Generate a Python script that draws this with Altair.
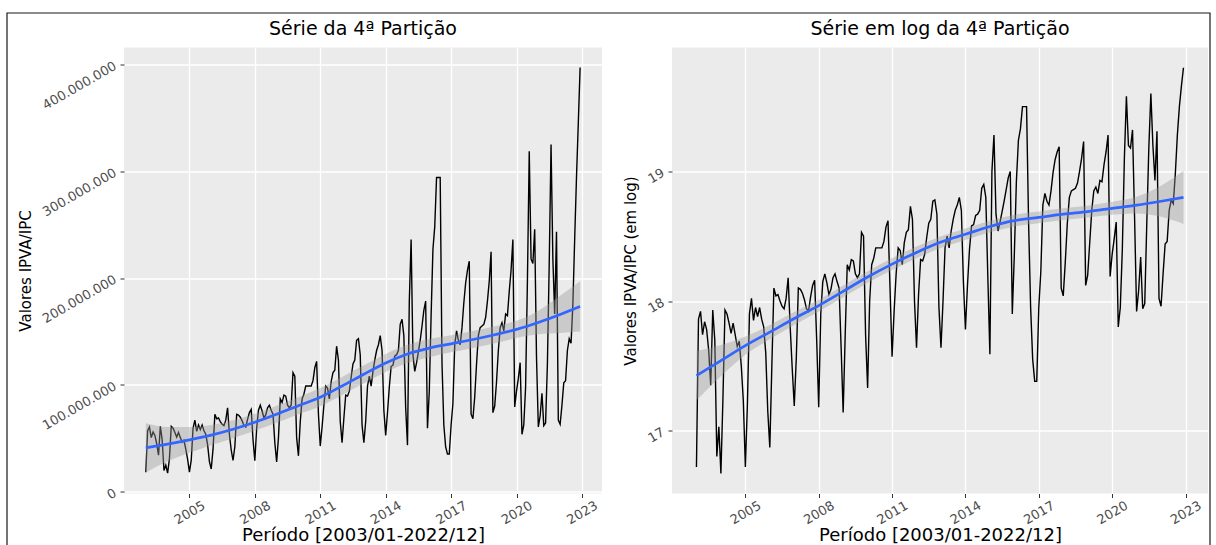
import altair as alt
import pandas as pd

# ---- monthly series (natural log of IPVA/IPC) ----
y2003 = [16.72, 17.86, 17.92, 17.74, 17.84, 17.78, 17.62, 17.35, 17.93, 17.70, 16.80, 17.03]
y2004 = [16.67, 17.25, 17.93, 17.90, 17.83, 17.75, 17.83, 17.74, 17.65, 17.69, 17.50, 17.23]
y2005 = [16.72, 17.20, 17.90, 18.02, 17.85, 17.95, 17.88, 17.95, 17.86, 17.80, 17.60, 17.15]
y2006 = [16.87, 17.50, 18.10, 18.04, 18.05, 18.00, 17.96, 17.94, 18.02, 18.18, 17.80, 17.48]
y2007 = [17.19, 17.56, 18.10, 18.09, 18.06, 18.01, 17.94, 17.92, 18.03, 18.12, 18.16, 17.70]
y2008 = [17.18, 17.90, 18.15, 18.21, 18.14, 18.05, 18.09, 18.18, 18.21, 18.15, 18.10, 17.64]
y2009 = [17.14, 17.74, 18.28, 18.24, 18.32, 18.31, 18.21, 18.18, 18.21, 18.53, 18.50, 17.74]
y2010 = [17.33, 18.00, 18.28, 18.33, 18.41, 18.41, 18.41, 18.41, 18.46, 18.57, 18.62, 18.10]
y2011 = [17.57, 17.92, 18.21, 18.41, 18.39, 18.28, 18.45, 18.53, 18.55, 18.73, 18.63, 18.00]
y2012 = [17.64, 18.05, 18.32, 18.31, 18.36, 18.49, 18.60, 18.63, 18.77, 18.78, 18.67, 17.95]
y2013 = [17.64, 18.00, 18.41, 18.50, 18.41, 18.54, 18.63, 18.70, 18.74, 18.80, 18.70, 18.15]
y2014 = [17.78, 18.12, 18.40, 18.58, 18.59, 18.66, 18.67, 18.70, 18.87, 18.90, 18.80, 18.18]
y2015 = [17.59, 19.00, 19.28, 18.67, 18.54, 18.61, 18.69, 18.77, 18.86, 18.95, 19.00, 17.90]
y2016 = [18.36, 18.92, 19.24, 19.33, 19.50, 19.50, 19.50, 18.60, 17.95, 17.55, 17.38, 17.38]
y2017 = [17.95, 18.23, 18.74, 18.83, 18.77, 18.74, 18.85, 18.99, 19.09, 19.15, 19.19, 18.10]
y2018 = [18.04, 18.30, 18.60, 18.80, 18.85, 18.86, 18.87, 18.91, 19.00, 19.10, 19.23, 18.12]
y2019 = [18.20, 18.45, 18.70, 18.85, 18.88, 18.83, 18.93, 18.92, 19.05, 19.15, 19.28, 18.19]
y2020 = [18.36, 18.48, 18.61, 17.80, 17.95, 18.40, 19.10, 19.58, 19.20, 19.18, 19.32, 18.65]
y2021 = [17.92, 18.08, 18.34, 17.94, 17.98, 18.60, 19.18, 19.60, 19.20, 18.93, 19.31, 18.02]
y2022 = [17.96, 18.21, 18.44, 18.46, 18.70, 18.78, 18.75, 18.98, 19.28, 19.50, 19.66, 19.80]

year_lists = [y2003, y2004, y2005, y2006, y2007, y2008, y2009, y2010, y2011, y2012,
              y2013, y2014, y2015, y2016, y2017, y2018, y2019, y2020, y2021, y2022]
log_values = [v for lst in year_lists for v in lst]
t_values = [2003 + i / 12 for i in range(len(log_values))]
series = pd.DataFrame({"t": t_values, "logv": log_values})

# ---- loess fit and its confidence half-width, read at yearly nodes ----
smooth_t = [2003.0, 2004.0, 2005.0, 2006.0, 2007.0, 2008.0, 2009.0, 2010.0, 2011.0, 2012.0,
            2013.0, 2014.0, 2015.0, 2016.0, 2017.0, 2018.0, 2019.0, 2020.0, 2021.0, 2022.0, 2022.917]
fit_raw_mi = [41, 44.5, 48.5, 53, 58.5, 65, 72.5, 80.5, 88.5, 99,
              110, 120.5, 129, 134.5, 138.5, 142.5, 147, 152, 158.5, 166, 173.5]
se_raw_mi = [23, 16, 12, 9.5, 8.5, 8, 8, 8, 8.5, 8.5,
             8.5, 8.5, 8.5, 8.5, 8, 8, 8, 8, 11, 17.5, 23.5]
fit_log = [17.424, 17.54, 17.656, 17.76, 17.865, 17.965, 18.075, 18.185, 18.285, 18.375,
           18.455, 18.515, 18.575, 18.62, 18.645, 18.67, 18.69, 18.715, 18.74, 18.77, 18.80]
se_log = [0.19, 0.12, 0.07, 0.055, 0.05, 0.045, 0.045, 0.045, 0.045, 0.045,
          0.045, 0.045, 0.045, 0.045, 0.045, 0.045, 0.045, 0.05, 0.065, 0.12, 0.205]

smooth = pd.DataFrame({
    "t": smooth_t,
    "fit_raw": [v * 1e6 for v in fit_raw_mi],
    "lo_raw": [(f - s) * 1e6 for f, s in zip(fit_raw_mi, se_raw_mi)],
    "hi_raw": [(f + s) * 1e6 for f, s in zip(fit_raw_mi, se_raw_mi)],
    "fit_log": fit_log,
    "lo_log": [f - s for f, s in zip(fit_log, se_log)],
    "hi_log": [f + s for f, s in zip(fit_log, se_log)],
})

x_ticks = [2005, 2008, 2011, 2014, 2017, 2020, 2023]
raw_ticks = [0, 100000000, 200000000, 300000000, 400000000]
log_ticks = [17, 18, 19]

FONT = "DejaVu Sans"
X_TITLE = "Período [2003/01-2022/12]"
LEFT_TITLE = "Série da 4ª Partição"
RIGHT_TITLE = "Série em log da 4ª Partição"

W_LEFT, W_RIGHT, H = 478, 536, 446


def x_enc():
    return alt.X(
        "t:Q",
        scale=alt.Scale(domain=[2002.0, 2023.92], nice=False, zero=False),
        axis=alt.Axis(values=x_ticks, format="d", labelAngle=-30, labelAlign="center",
                      labelBaseline="middle", labelPadding=15, tickSize=4,
                      title=X_TITLE, titleY=47, titleBaseline="alphabetic",
                      titleFontSize=18),
    )


def y_raw(field):
    return alt.Y(
        field,
        scale=alt.Scale(domain=[-1.7e6, 416e6], nice=False, zero=False),
        axis=alt.Axis(values=raw_ticks,
                      labelExpr="join(split(format(datum.value, ',d'), ','), '.')",
                      labelAngle=-30, labelAlign="right", labelBaseline="middle",
                      labelPadding=5, tickSize=4, title="Valores IPVA/IPC",
                      titleX=-94, titleY=H / 2, titleAlign="center",
                      titleBaseline="alphabetic", titleAngle=270, titleFontSize=15),
    )


def y_log(field):
    return alt.Y(
        field,
        scale=alt.Scale(domain=[16.515, 19.956], nice=False, zero=False),
        axis=alt.Axis(values=log_ticks, format="d",
                      labelAngle=-30, labelAlign="right", labelBaseline="middle",
                      labelPadding=5, tickSize=4, title="Valores IPVA/IPC (em log)",
                      titleX=-37, titleY=H / 2, titleAlign="center",
                      titleBaseline="alphabetic", titleAngle=270, titleFontSize=15),
    )


def title_mark(text, width):
    return alt.Chart(pd.DataFrame({"d": [0]})).mark_text(
        font=FONT, fontSize=19, color="black", align="center", baseline="alphabetic").encode(
        x=alt.value(width / 2), y=alt.value(-12.5), text=alt.value(text))


# ---- left panel: raw values ----
left_line = alt.Chart(series).transform_calculate(val="exp(datum.logv)").mark_line(
    color="black", strokeWidth=1.4).encode(x=x_enc(), y=y_raw("val:Q"))
left_band = alt.Chart(smooth).mark_area(color="#999999", opacity=0.4, interpolate="monotone").encode(
    x=x_enc(), y=y_raw("lo_raw:Q"), y2="hi_raw:Q")
left_fit = alt.Chart(smooth).mark_line(color="#3366FF", strokeWidth=2.7, interpolate="monotone").encode(
    x=x_enc(), y=y_raw("fit_raw:Q"))
frame = alt.Chart(pd.DataFrame({"d": [0]})).mark_rect(
    fillOpacity=0, stroke="#1a1a1a", strokeWidth=1.2).encode(
    x=alt.value(-117), x2=alt.value(1086), y=alt.value(-34.5), y2=alt.value(515))

left = alt.layer(left_line, left_band, left_fit, title_mark(LEFT_TITLE, W_LEFT), frame).properties(
    width=W_LEFT, height=H)

# ---- right panel: log values ----
right_line = alt.Chart(series).mark_line(color="black", strokeWidth=1.4).encode(
    x=x_enc(), y=y_log("logv:Q"))
right_band = alt.Chart(smooth).mark_area(color="#999999", opacity=0.4, interpolate="monotone").encode(
    x=x_enc(), y=y_log("lo_log:Q"), y2="hi_log:Q")
right_fit = alt.Chart(smooth).mark_line(color="#3366FF", strokeWidth=2.7, interpolate="monotone").encode(
    x=x_enc(), y=y_log("fit_log:Q"))

right = alt.layer(right_line, right_band, right_fit, title_mark(RIGHT_TITLE, W_RIGHT)).properties(
    width=W_RIGHT, height=H)

chart = alt.hconcat(
    left, right, spacing=70, bounds="flush",
    padding={"left": 6, "top": 11.5, "right": 2, "bottom": 0},
).configure_view(
    fill="#EBEBEB", strokeWidth=0
).configure_axis(
    domain=False, grid=True, gridColor="white", gridWidth=1.3,
    tickColor="#333333", tickWidth=1,
    labelFont=FONT, labelFontSize=13, labelColor="#4D4D4D",
    titleFont=FONT, titleFontWeight="normal", titleColor="black",
).properties(background="white")

chart.save("out.html", embed_options={"renderer": "svg", "actions": False})
